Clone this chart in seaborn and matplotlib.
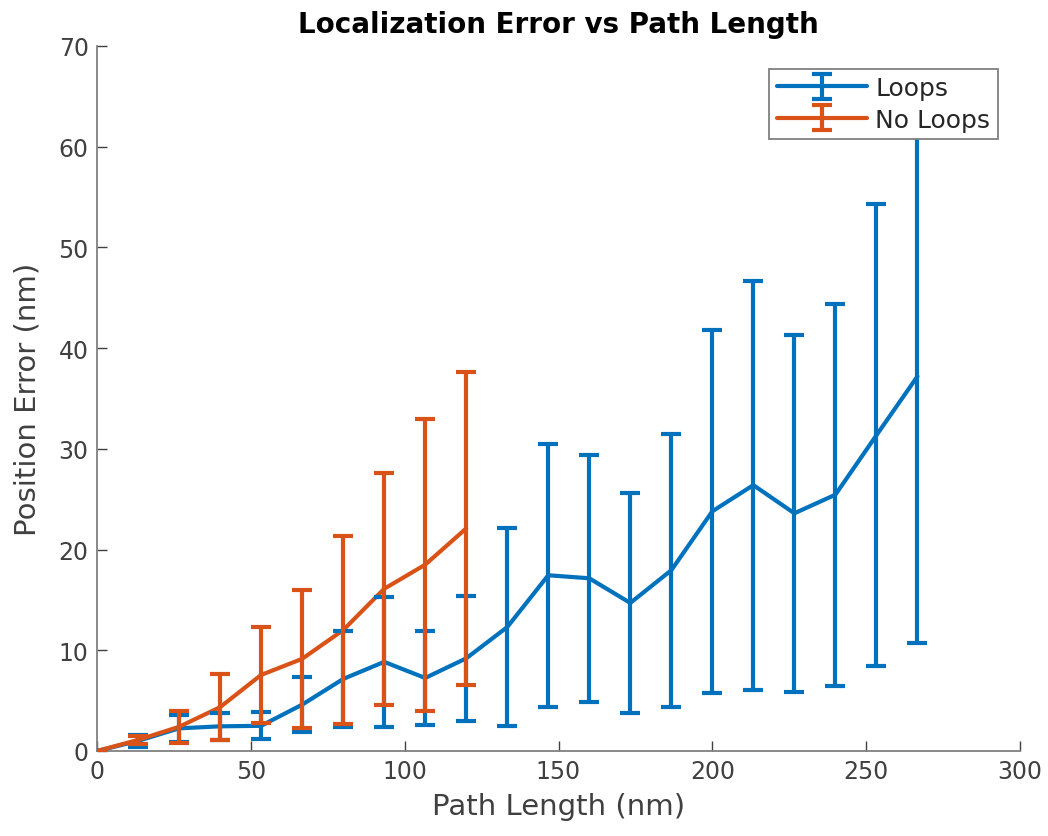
import numpy as np
import pandas as pd
import matplotlib
matplotlib.use("Agg")
import matplotlib.pyplot as plt
import seaborn as sns
from matplotlib.legend_handler import HandlerTuple

# ---- data ----
loops_x = [0, 13.33, 26.67, 40, 53.33, 66.67, 80, 93.33, 106.67, 120, 133.33,
           146.67, 160, 173.33, 186.67, 200, 213.33, 226.67, 240, 253.33, 266.67]
loops_mean = [0, 1.0, 2.25, 2.45, 2.5, 4.6, 7.15, 8.85, 7.25, 9.2, 12.3,
              17.45, 17.15, 14.7, 17.95, 23.8, 26.4, 23.6, 25.45, 31.35, 37.2]
loops_err = [0, 0.6, 1.35, 1.35, 1.35, 2.7, 4.75, 6.45, 4.65, 6.2, 9.8,
             13.05, 12.25, 10.9, 13.55, 18.0, 20.3, 17.7, 18.95, 22.95, 26.5]

noloops_x = [0, 13.33, 26.67, 40, 53.33, 66.67, 80, 93.33, 106.67, 120]
noloops_mean = [0, 1.1, 2.4, 4.35, 7.55, 9.15, 12.0, 16.1, 18.5, 22.1]
noloops_err = [0, 0.4, 1.6, 3.25, 4.75, 6.85, 9.3, 11.5, 14.5, 15.5]

series_names = ["Loops", "No Loops"]
colors = ["#0072BD", "#D95319"]

x_ticks = [0, 50, 100, 150, 200, 250, 300]
y_ticks = [0, 10, 20, 30, 40, 50, 60, 70]

# ---- style ----
sns.set_theme(style="white")
plt.rcParams["font.family"] = ["DejaVu Sans"]

fig = plt.figure(figsize=(10.48, 8.37), dpi=100)
ax = fig.add_axes([97 / 1048, 1 - 752 / 837, (1020 - 97) / 1048, (752 - 47) / 837])

df = pd.concat([
    pd.DataFrame({"x": loops_x, "y": loops_mean, "s": series_names[0]}),
    pd.DataFrame({"x": noloops_x, "y": noloops_mean, "s": series_names[1]}),
])

LW = 3.0
sns.lineplot(data=df, x="x", y="y", hue="s", palette=colors, linewidth=LW,
             ax=ax, legend=False, zorder=3)

handles = []
for (xs, ms, es, c), line in zip(
        [(loops_x, loops_mean, loops_err, colors[0]),
         (noloops_x, noloops_mean, noloops_err, colors[1])], list(ax.lines)):
    cont = ax.errorbar(xs, ms, yerr=es, fmt="none", ecolor=c, elinewidth=LW,
                       capsize=7, capthick=LW, zorder=3)
    handles.append((line, cont))

ax.set_xlim(0, 300)
ax.set_ylim(0, 70)
ax.set_xticks(x_ticks)
ax.set_yticks(y_ticks)

for s in ["top", "right"]:
    ax.spines[s].set_visible(False)
for s in ["left", "bottom"]:
    ax.spines[s].set_color("#808080")
    ax.spines[s].set_linewidth(1.3)
ax.tick_params(direction="in", length=7, width=1.0, color="#404040",
               labelsize=17, labelcolor="#404040", pad=6,
               bottom=True, left=True)

ax.set_xlabel("Path Length (nm)", fontsize=21, color="#404040", labelpad=6)
ax.set_ylabel("Position Error (nm)", fontsize=21, color="#404040", labelpad=12)
ax.set_title("Localization Error vs Path Length", fontsize=20, fontweight="bold",
             color="black", pad=10)

leg = ax.legend(handles, series_names,
                handler_map={tuple: HandlerTuple(ndivide=1, pad=0.0)},
                loc="upper right", bbox_to_anchor=(0.976, 0.968), fontsize=18,
                frameon=True, fancybox=False, handlelength=3.6, borderpad=0.3,
                labelspacing=0.3, handletextpad=0.35, borderaxespad=0.0)
leg.get_frame().set_edgecolor("#808080")
leg.get_frame().set_linewidth(1.3)
leg.get_frame().set_alpha(1.0)
leg.set_zorder(5)
for t in leg.get_texts():
    t.set_color("#262626")

fig.savefig("out.png", dpi=100)
